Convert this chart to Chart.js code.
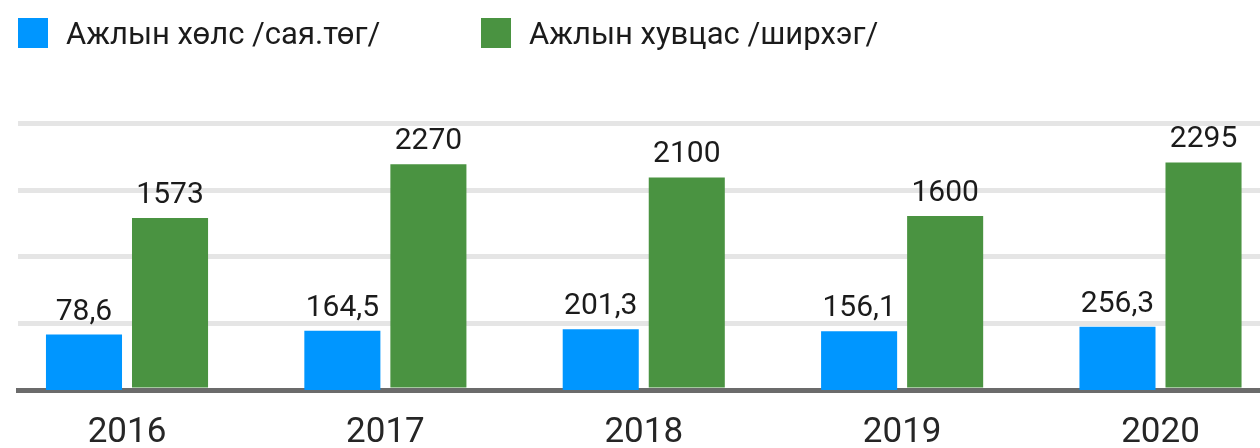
<!DOCTYPE html>
<html>
<head>
<meta charset="utf-8">
<script src="https://cdn.jsdelivr.net/npm/chart.js@4/dist/chart.umd.min.js"></script>
<style>
  html, body { margin: 0; padding: 0; background: #fff; overflow: hidden; }
  #wrap { position: relative; width: 1260px; height: 448px; }
  #chart { position: absolute; left: 0; top: 0; }
  .legend-item { position: absolute; top: 18px; height: 30px; display: flex; align-items: center; }
  .legend-box { width: 30px; height: 30px; }
  .legend-text { position: absolute; top: 0; white-space: nowrap; font: 31px Roboto, sans-serif; color: #1b1b1b; line-height: 31px; }
</style>
</head>
<body>
<div id="wrap">
  <canvas id="chart" width="1260" height="448"></canvas>
  <div id="legend"></div>
</div>
<script>
// Years on the x axis
const years = ['2016', '2017', '2018', '2019', '2020'];

// Series names
const seriesNames = ['Ажлын хөлс /сая.төг/', 'Ажлын хувцас /ширхэг/'];

// Wages, million tugrik
const wageValues = [78.6, 164.5, 201.3, 156.1, 256.3];

// Work clothing, pieces
const clothingValues = [1573, 2270, 2100, 1600, 2295];

const colors = ['#0096ff', '#4a9341'];

// Each series has its own hidden value axis
const clothingAxis = { min: -660, max: 2800 };
const wageAxis = { min: -1190, max: 4910 };

// HTML legend above the chart
const legend = document.getElementById('legend');
[[18, 66], [481, 529]].forEach(([boxX, textX], i) => {
  const box = document.createElement('div');
  box.className = 'legend-item';
  box.style.left = boxX + 'px';
  box.innerHTML = `<div class="legend-box" style="background:${colors[i]}"></div>`;
  legend.appendChild(box);
  const txt = document.createElement('div');
  txt.className = 'legend-text';
  txt.style.left = textX + 'px';
  txt.style.top = '18px';
  txt.textContent = seriesNames[i];
  legend.appendChild(txt);
});

// Value labels above the bars
const valueLabels = {
  id: 'valueLabels',
  afterDatasetsDraw(chart) {
    const ctx = chart.ctx;
    ctx.save();
    ctx.font = '30px Roboto';
    ctx.fillStyle = '#1b1b1b';
    ctx.textAlign = 'center';
    ctx.textBaseline = 'alphabetic';
    chart.data.datasets.forEach((ds, i) => {
      chart.getDatasetMeta(i).data.forEach((bar, j) => {
        ctx.fillText(String(ds.data[j]).replace('.', ','), bar.x, bar.y - 15);
      });
    });
    ctx.restore();
  }
};

const ctx = document.getElementById('chart').getContext('2d');
new Chart(ctx, {
  type: 'bar',
  data: {
    labels: years,
    datasets: [
      {
        label: seriesNames[0],
        data: wageValues,
        backgroundColor: colors[0],
        yAxisID: 'y1',
        base: wageAxis.min
      },
      {
        label: seriesNames[1],
        data: clothingValues,
        backgroundColor: colors[1],
        yAxisID: 'y',
        base: clothingAxis.min
      }
    ]
  },
  options: {
    responsive: false,
    animation: false,
    devicePixelRatio: 1,
    categoryPercentage: 0.666,
    barPercentage: 0.884,
    layout: { padding: { top: 123.5, left: 18, right: 0, bottom: 0 } },
    plugins: { legend: { display: false }, tooltip: { enabled: false } },
    scales: {
      x: {
        type: 'linear',
        offset: false,
        min: 2015.5781,
        max: 2020.3851,
        z: 1,
        grid: { display: false, drawTicks: false },
        border: { display: true, width: 5, color: '#6b6b6b' },
        afterBuildTicks: (scale) => { scale.ticks = years.map(y => ({ value: +y })); },
        afterFit: (scale) => { scale.height = 58; },
        ticks: {
          autoSkip: false,
          maxRotation: 0,
          padding: 22,
          color: '#262626',
          font: { family: 'Roboto', size: 35 },
          callback: (v) => String(v)
        }
      },
      y: {
        min: clothingAxis.min,
        max: clothingAxis.max,
        ticks: { display: false, count: 5 },
        grid: { color: '#e5e5e5', lineWidth: 5, drawTicks: false },
        border: { display: false }
      },
      y1: {
        display: false,
        min: wageAxis.min,
        max: wageAxis.max
      }
    }
  },
  plugins: [valueLabels]
});
</script>
</body>
</html>
